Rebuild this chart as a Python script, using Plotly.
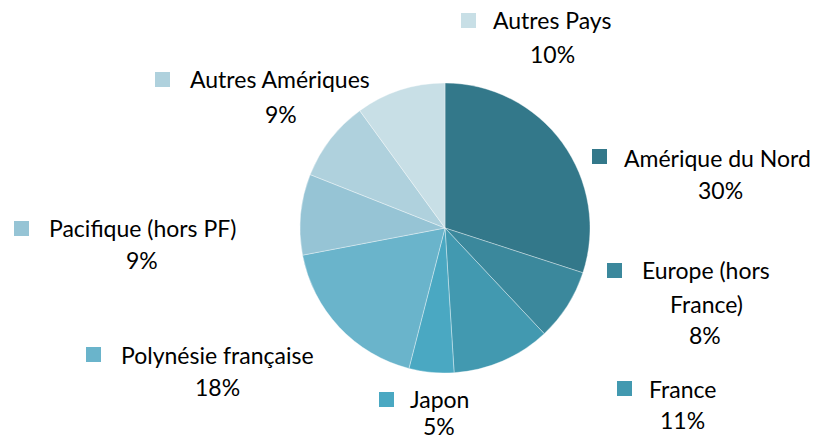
import plotly.graph_objects as go

W, H = 823, 441

categories = ["Amérique du Nord", "Europe (hors France)", "France", "Japon",
              "Polynésie française", "Pacifique (hors PF)", "Autres Amériques", "Autres Pays"]
values = [30, 8, 11, 5, 18, 9, 9, 10]
colors = ["#33788A", "#3B889C", "#4299B0", "#4AA8C2",
          "#6AB4CB", "#96C4D5", "#AFD1DD", "#C8DFE6"]

# label layout (pixel positions): name lines, text center x, first baseline, pct baseline, square box
label_lines = [["Amérique du Nord"], ["Europe (hors", "France)"], ["France"], ["Japon"],
               ["Polynésie française"], ["Pacifique (hors PF)"], ["Autres Amériques"], ["Autres Pays"]]
label_cx = [717, 706, 682, 439, 217, 142, 280, 552]
name_base = [166, 278, 397, 407, 363, 236, 87, 28]
pct_cx = [720, 705, 682, 439, 217, 142, 281, 552]
pct_base = [198, 343, 428, 437, 395, 268, 122, 62]
square_x = [592, 607, 617, 379, 86, 14, 155, 461]
square_y = [149, 263, 381, 392, 347, 221, 72, 13]

FONT = "Lato, Carlito, 'Open Sans', sans-serif"
FS = 23
LINE = 32

fig = go.Figure(go.Pie(
    labels=categories, values=values, sort=False, direction="clockwise",
    rotation=0, marker=dict(colors=colors, line=dict(color="rgba(255,255,255,0.6)", width=0.6)),
    textinfo="none", hoverinfo="label+percent", showlegend=False,
    domain=dict(x=[(445 - 145) / W, (445 + 145) / W], y=[(H - 228 - 145) / H, (H - 228 + 145) / H]),
))

total = sum(values)
annotations = []
shapes = []
def px(x):
    return x / W
def py(y):
    return 1 - y / H

def text_ann(x, base, txt):
    if base > 430:
        # keep the text box inside the page at the bottom edge
        return dict(x=px(x), y=0, xref="paper", yref="paper", text=txt, showarrow=False,
                    xanchor="center", yanchor="bottom", borderpad=0,
                    font=dict(family=FONT, size=FS, color="#000000"))
    return dict(x=px(x), y=py(base - 8), xref="paper", yref="paper", text=txt, showarrow=False,
                xanchor="center", yanchor="middle",
                font=dict(family=FONT, size=FS, color="#000000"))

for i, lines in enumerate(label_lines):
    for j, ln in enumerate(lines):
        b = name_base[i] + j * (LINE + 2)
        annotations.append(text_ann(label_cx[i], b, ln))
    pct = f"{round(values[i] / total * 100)}%"
    annotations.append(text_ann(pct_cx[i], pct_base[i], pct))
    shapes.append(dict(type="rect", xref="paper", yref="paper",
                       x0=px(square_x[i]), x1=px(square_x[i] + 15),
                       y0=py(square_y[i]), y1=py(square_y[i] + 15),
                       fillcolor=colors[i], line=dict(width=0)))

fig.update_layout(width=W, height=H, margin=dict(l=0, r=0, t=0, b=0),
                  paper_bgcolor="white", plot_bgcolor="white",
                  annotations=annotations, shapes=shapes)

fig.write_html("out.html", config={"displayModeBar": False},
               post_script="document.body.style.margin='0';document.body.style.overflow='hidden';")
